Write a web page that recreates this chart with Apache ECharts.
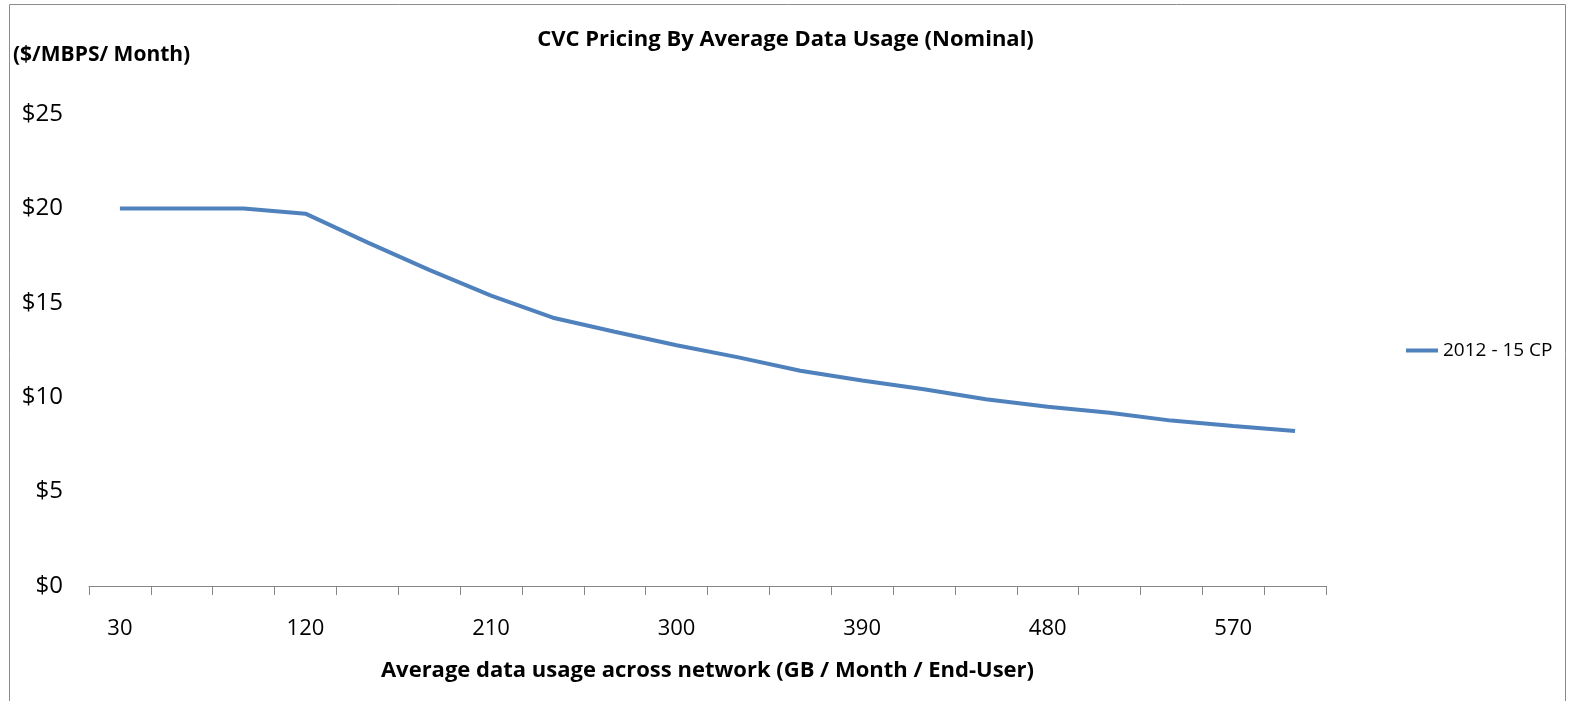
<!DOCTYPE html>
<html>
<head>
<meta charset="utf-8">
<script src="https://cdn.jsdelivr.net/npm/echarts@6/dist/echarts.min.js"></script>
<style>
  html, body { margin: 0; padding: 0; background: #fff; }
  #chart { width: 1571px; height: 701px; }
</style>
</head>
<body>
<div id="chart"></div>
<script>
// data
var usageList = ['30', '60', '90', '120', '150', '180', '210', '240', '270', '300',
                 '330', '360', '390', '420', '450', '480', '510', '540', '570', '600'];
var priceList = [20, 20, 20, 19.72, 18.2, 16.74, 15.38, 14.21, 13.47, 12.75,
                 12.11, 11.4, 10.88, 10.42, 9.89, 9.5, 9.18, 8.76, 8.47, 8.21];
var seriesName = '2012 - 15 CP';

var FONT = '"Open Sans", sans-serif';

var myChart = echarts.init(document.getElementById('chart'));

option = {
    animation: false,
    backgroundColor: '#ffffff',
    title: [{
        left: 'center',
        top: 24,
        text: 'CVC Pricing By Average Data Usage (Nominal)',
        textStyle: {
            fontFamily: FONT,
            fontWeight: 'bold',
            fontSize: 22,
            color: '#000'
        }
    }, {
        left: 8,
        top: 40,
        text: '($/MBPS/ Month)',
        textStyle: {
            fontFamily: FONT,
            fontWeight: 'bold',
            fontSize: 21,
            color: '#000'
        }
    }],
    legend: {
        left: 1406,
        top: 341,
        padding: 0,
        icon: 'rect',
        itemWidth: 32,
        itemHeight: 4,
        textStyle: {
            fontFamily: FONT,
            fontSize: 19,
            color: '#000'
        },
        data: [seriesName]
    },
    grid: {
        left: 89,
        right: 245,
        top: 114,
        bottom: 115,
        containLabel: false
    },
    xAxis: {
        type: 'category',
        data: usageList,
        boundaryGap: true,
        name: 'Average data usage across network (GB / Month / End-User)',
        nameLocation: 'middle',
        nameGap: 74,
        nameTextStyle: {
            fontFamily: FONT,
            fontWeight: 'bold',
            fontSize: 22,
            color: '#000'
        },
        axisLine: { show: true, lineStyle: { color: '#868686', width: 1 } },
        axisTick: { show: true, interval: 0, length: 9, lineStyle: { color: '#868686', width: 1 } },
        axisLabel: {
            interval: 2,
            margin: 32,
            fontFamily: FONT,
            fontSize: 22,
            color: '#000'
        }
    },
    yAxis: {
        type: 'value',
        min: 0,
        max: 25,
        interval: 5,
        axisLine: { show: false },
        axisTick: { show: false },
        splitLine: { show: false },
        axisLabel: {
            margin: 26,
            fontFamily: FONT,
            fontSize: 24,
            color: '#000',
            formatter: function (v) { return '$' + v; }
        }
    },
    graphic: [{
        type: 'rect',
        shape: { x: 9.5, y: 4.5, width: 1556, height: 700 },
        style: { fill: 'none', stroke: '#8c8c8c', lineWidth: 1 },
        silent: true
    }],
    series: [{
        name: seriesName,
        type: 'line',
        data: priceList,
        showSymbol: false,
        symbol: 'none',
        itemStyle: { color: '#4F81BD' },
        lineStyle: { color: '#4F81BD', width: 4 }
    }]
};

myChart.setOption(option);
</script>
</body>
</html>
